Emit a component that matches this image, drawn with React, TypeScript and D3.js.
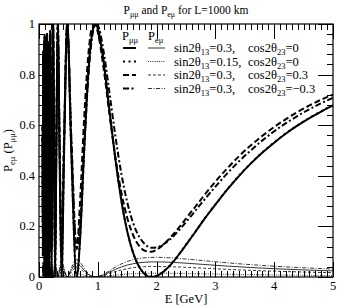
import React from 'react'
import * as d3 from 'd3'

// energy grid in GeV shared by all curves
const energies = [
  0.06, 0.066, 0.072, 0.079, 0.085, 0.0914, 0.096, 0.1011, 0.1067, 0.1129, 0.12, 0.128, 0.1371, 0.1477, 0.16, 0.1745, 0.192, 0.2133, 0.24,
  0.256, 0.2743, 0.2954, 0.32, 0.3491, 0.384, 0.4267, 0.48, 0.5486, 0.64, 0.7, 0.768, 0.85, 0.9, 0.96,
  1.0, 1.1, 1.2, 1.3, 1.4, 1.5, 1.6, 1.7, 1.8, 1.9, 2.0, 2.1, 2.2, 2.3, 2.4, 2.5, 2.6, 2.7, 2.8, 2.9, 3.0,
  3.2, 3.4, 3.6, 3.8, 4.0, 4.2, 4.4, 4.6, 4.8, 5.0,
]

// P_mumu
const pmmSolid = [
  0.55, 0.08, 0.88, 0.12, 0.92, 0.02, 0.95, 0.0, 0.9, 0.03, 0.93, 0.01, 0.96, 0.0, 0.92, 0.0, 0.97, 0.0, 1.0,
  0.5, 0.0, 0.5, 1.0, 0.5, 0.0, 0.5, 1.0, 0.5, 0.0, 0.155, 0.5, 0.844, 0.957, 1.0,
  0.984, 0.849, 0.655, 0.464, 0.303, 0.181, 0.096, 0.041, 0.011, 0.0, 0.004, 0.018, 0.039, 0.065, 0.095, 0.127, 0.159, 0.192, 0.225, 0.256, 0.286,
  0.345, 0.399, 0.448, 0.492, 0.531, 0.567, 0.599, 0.628, 0.654, 0.678,
]
const pmmDotted = [
  0.55, 0.08, 0.88, 0.12, 0.92, 0.02, 0.95, 0.0, 0.9, 0.03, 0.93, 0.01, 0.96, 0.0, 0.92, 0.0, 0.97, 0.0, 1.0,
  0.5, 0.0, 0.5, 1.0, 0.5, 0.0, 0.5, 1.0, 0.5, 0.0, 0.156, 0.5, 0.844, 0.957, 1.0,
  0.984, 0.849, 0.656, 0.465, 0.304, 0.182, 0.097, 0.042, 0.012, 0.002, 0.005, 0.019, 0.04, 0.066, 0.096, 0.128, 0.16, 0.193, 0.226, 0.257, 0.287,
  0.346, 0.4, 0.449, 0.493, 0.532, 0.568, 0.6, 0.629, 0.655, 0.679,
]
const pmmDashed = [
  0.595, 0.172, 0.892, 0.208, 0.928, 0.118, 0.955, 0.1, 0.91, 0.127, 0.937, 0.109, 0.964, 0.1, 0.928, 0.1, 0.973, 0.1, 1.0,
  0.55, 0.1, 0.55, 1.0, 0.55, 0.1, 0.55, 1.0, 0.55, 0.11, 0.305, 0.627, 0.906, 0.983, 0.996,
  0.967, 0.823, 0.641, 0.472, 0.335, 0.234, 0.166, 0.124, 0.104, 0.1, 0.108, 0.125, 0.147, 0.173, 0.201, 0.231, 0.261, 0.29, 0.32, 0.349, 0.377,
  0.429, 0.477, 0.52, 0.558, 0.593, 0.624, 0.653, 0.678, 0.701, 0.721,
]
const pmmDashDot = [
  0.602, 0.186, 0.894, 0.221, 0.929, 0.133, 0.956, 0.115, 0.912, 0.142, 0.938, 0.124, 0.965, 0.115, 0.929, 0.115, 0.973, 0.115, 1.0,
  0.557, 0.115, 0.557, 1.0, 0.557, 0.115, 0.557, 1.0, 0.557, 0.119, 0.214, 0.507, 0.827, 0.942, 0.998,
  0.994, 0.89, 0.725, 0.556, 0.409, 0.296, 0.214, 0.161, 0.13, 0.116, 0.117, 0.127, 0.143, 0.165, 0.19, 0.217, 0.245, 0.274, 0.302, 0.33, 0.357,
  0.409, 0.457, 0.5, 0.54, 0.576, 0.608, 0.637, 0.663, 0.687, 0.708,
]

// P_emu
const pemSolid = [
  0.0225, 0.046, 0.006, 0.044, 0.004, 0.049, 0.0025, 0.05, 0.005, 0.049, 0.0035, 0.05, 0.002, 0.05, 0.004, 0.051, 0.0015, 0.051, 0,
  0.0257, 0.0514, 0.0258, 0, 0.0259, 0.0519, 0.0261, 0, 0.0264, 0.0532, 0.0452, 0.0269, 0.0085, 0.0023, 0,
  0.0009, 0.0084, 0.0193, 0.0303, 0.0397, 0.0471, 0.0524, 0.0561, 0.0584, 0.0595, 0.0598, 0.0594, 0.0586, 0.0575, 0.0561, 0.0546, 0.053, 0.0513, 0.0496, 0.048, 0.0464,
  0.0432, 0.0403, 0.0375, 0.0351, 0.0328, 0.0307, 0.0289, 0.0272, 0.0256, 0.0242,
]
const pemDotted = [
  0.0056, 0.0115, 0.0015, 0.011, 0.001, 0.0123, 0.0006, 0.0125, 0.0013, 0.012, 0.0009, 0.0125, 0.0005, 0.0125, 0.001, 0.0127, 0.0004, 0.0127, 0,
  0.0064, 0.0128, 0.0064, 0, 0.0065, 0.013, 0.0065, 0, 0.0066, 0.0133, 0.0113, 0.0067, 0.0021, 0.0006, 0,
  0.0002, 0.0021, 0.0048, 0.0076, 0.0099, 0.0118, 0.0131, 0.014, 0.0146, 0.0149, 0.0149, 0.0149, 0.0147, 0.0144, 0.014, 0.0136, 0.0132, 0.0128, 0.0124, 0.012, 0.0116,
  0.0108, 0.0101, 0.0094, 0.0088, 0.0082, 0.0077, 0.0072, 0.0068, 0.0064, 0.006,
]
const pemDashed = [
  0.016, 0.032, 0.004, 0.031, 0.003, 0.034, 0.002, 0.035, 0.0035, 0.034, 0.0025, 0.035, 0.0014, 0.035, 0.003, 0.035, 0.001, 0.035, 0,
  0.018, 0.036, 0.018, 0, 0.0181, 0.0363, 0.0183, 0, 0.0185, 0.0372, 0.0316, 0.0188, 0.0059, 0.0016, 0,
  0.0006, 0.0059, 0.0135, 0.0212, 0.0278, 0.033, 0.0367, 0.0393, 0.0408, 0.0417, 0.0418, 0.0416, 0.041, 0.0403, 0.0393, 0.0382, 0.0371, 0.0359, 0.0347, 0.0336, 0.0325,
  0.0303, 0.0282, 0.0263, 0.0245, 0.023, 0.0215, 0.0202, 0.019, 0.0179, 0.0169,
]
const pemDashDot = [
  0.029, 0.06, 0.008, 0.057, 0.005, 0.064, 0.003, 0.065, 0.0065, 0.063, 0.0045, 0.065, 0.0026, 0.066, 0.005, 0.066, 0.002, 0.066, 0,
  0.0333, 0.0668, 0.0335, 0, 0.0336, 0.0675, 0.0339, 0, 0.0343, 0.0692, 0.0588, 0.035, 0.011, 0.003, 0,
  0.0011, 0.0109, 0.0251, 0.0394, 0.0516, 0.0612, 0.0682, 0.0729, 0.0759, 0.0774, 0.0777, 0.0772, 0.0762, 0.0748, 0.0729, 0.0709, 0.0689, 0.0667, 0.0645, 0.0624, 0.0603,
  0.0562, 0.0523, 0.0488, 0.0456, 0.0427, 0.04, 0.0375, 0.0353, 0.0333, 0.0314,
]

const xTicks = [0, 1, 2, 3, 4, 5]
const yTicks = [0, 0.2, 0.4, 0.6, 0.8, 1]
const yTickLabels = ['0', '0.2', '0.4', '0.6', '0.8', '1']
const legendSin = ['0.3', '0.15', '0.3', '0.3']
const legendCos = ['0', '0', '0.3', '\u22120.3']

const thickDash = [null, '2,3.5', '6,3', '6,2.5,2,2.5']
const thinDash = [null, '1,1.2', '3,2', '4,1.5,1,1.5']

const W = 338
const H = 306
const serif = { fontFamily: '"Liberation Serif"' }

export default function App() {
  const x = d3.scaleLinear().domain([0, 5]).range([39, 333])
  const y = d3.scaleLinear().domain([0, 1]).range([277, 24])
  const [x0, x1] = x.range()
  const [y0, y1] = y.range()

  const line = (vals: number[]) =>
    d3.line<number>().x((_, i) => x(energies[i])).y(d => y(d)).curve(d3.curveMonotoneX)(vals) || ''

  const pmm = [pmmSolid, pmmDotted, pmmDashed, pmmDashDot]
  const pem = [pemSolid, pemDotted, pemDashed, pemDashDot]

  const xMinor = d3.range(0, 5.0001, 0.1)
  const yMinor = d3.range(0, 1.0001, 0.04)
  const major = 15
  const minor = 6

  const rowY = [48, 61.5, 75, 88.5]

  return (
    <svg width={W} height={H} style={{ position: 'absolute', left: 0, top: 0, background: '#fff' }}>
      <defs>
        <clipPath id="plot">
          <rect x={x0} y={y1} width={x1 - x0} height={y0 - y1} />
        </clipPath>
      </defs>

      <text x={186} y={14} textAnchor="middle" fontSize={11.5} style={serif}>
        P<tspan dy={3} fontSize={8}>μμ</tspan><tspan dy={-3}> and P</tspan><tspan dy={3} fontSize={8}>eμ</tspan><tspan dy={-3}> for L=1000 km</tspan>
      </text>

      {/* ticks, inward on all sides */}
      <g stroke="#000" strokeWidth={1}>
        {xMinor.map((t, i) => {
          const len = i % 10 === 0 ? major : minor
          const px = Math.round(x(t)) + 0.5
          return (
            <g key={'xt' + i}>
              <line x1={px} x2={px} y1={y0} y2={y0 - len} />
              <line x1={px} x2={px} y1={y1} y2={y1 + len} />
            </g>
          )
        })}
        {yMinor.map((t, i) => {
          const len = i % 5 === 0 ? major : minor
          const py = Math.round(y(t)) + 0.5
          return (
            <g key={'yt' + i}>
              <line x1={x0} x2={x0 + len} y1={py} y2={py} />
              <line x1={x1} x2={x1 - len} y1={py} y2={py} />
            </g>
          )
        })}
      </g>

      <g clipPath="url(#plot)" fill="none" stroke="#000">
        {pem.map((v, i) => (
          <path key={'pem' + i} d={line(v)} strokeWidth={0.8} strokeDasharray={thinDash[i] || undefined} />
        ))}
        {pmm.map((v, i) => (
          <path key={'pmm' + i} d={line(v)} strokeWidth={2} strokeDasharray={thickDash[i] || undefined} />
        ))}
      </g>

      <rect x={x0} y={y1} width={x1 - x0} height={y0 - y1} fill="none" stroke="#000" strokeWidth={1.2} />

      {xTicks.map(t => (
        <text key={'xl' + t} x={x(t)} y={290} textAnchor="middle" fontSize={12.5} style={serif}>{t}</text>
      ))}
      {yTicks.map((t, i) => (
        <text key={'yl' + t} x={35} y={y(t) + 4} textAnchor="end" fontSize={12.5} style={serif}>{yTickLabels[i]}</text>
      ))}

      <text x={186} y={303} textAnchor="middle" fontSize={12.5} style={serif}>E [GeV]</text>
      <text transform={`translate(12,${(y0 + y1) / 2}) rotate(-90)`} textAnchor="middle" fontSize={12.5} style={serif}>
        P<tspan dy={3} fontSize={8.5}>eμ</tspan><tspan dy={-3}> (P</tspan><tspan dy={3} fontSize={8.5}>μμ</tspan><tspan dy={-3}>)</tspan>
      </text>

      {/* legend */}
      <g fontSize={12.5}>
        <text x={122} y={40} style={serif}>P<tspan dy={3} fontSize={8.5}>μμ</tspan></text>
        <text x={148} y={40} style={serif}>P<tspan dy={3} fontSize={8.5}>eμ</tspan></text>
        {rowY.map((ry, i) => (
          <g key={'lg' + i}>
            <line x1={123} x2={136} y1={ry} y2={ry} stroke="#000" strokeWidth={2} strokeDasharray={thickDash[i] || undefined} />
            <line x1={148} x2={165} y1={ry} y2={ry} stroke="#000" strokeWidth={0.8} strokeDasharray={thinDash[i] || undefined} />
            <text x={174} y={ry + 4} style={serif}>
              sin2θ<tspan dy={3} fontSize={8.5}>13</tspan><tspan dy={-3}>={legendSin[i]},</tspan>
            </text>
            <text x={248} y={ry + 4} style={serif}>
              cos2θ<tspan dy={3} fontSize={8.5}>23</tspan><tspan dy={-3}>={legendCos[i]}</tspan>
            </text>
          </g>
        ))}
      </g>
    </svg>
  )
}
